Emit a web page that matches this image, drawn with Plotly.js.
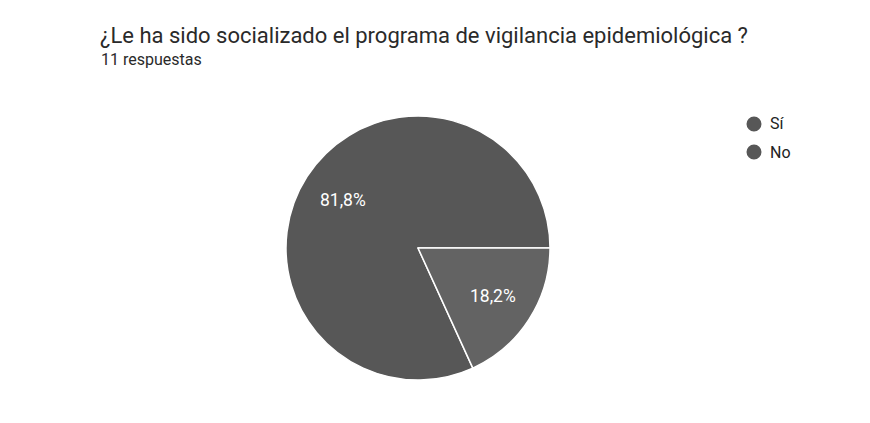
<!DOCTYPE html>
<html>
<head>
<meta charset="utf-8">
<script src="https://cdn.plot.ly/plotly-3.0.1.min.js"></script>
<style>html,body{margin:0;padding:0;background:#fff;}#chart{width:870px;height:423px;}</style>
</head>
<body>
<div id="chart"></div>
<script>
const categories = ["Sí", "No"];
const counts = [9, 2];
const colors = ["#575757", "#636363"];
const legendColors = ["#575757", "#575757"];
const titleText = "¿Le ha sido socializado el programa de vigilancia epidemiológica ?";
const subtitleText = "11 respuestas";

const W = 870, H = 423;
const cx = 418, cy = 248, r = 132;
const total = counts.reduce((a, b) => a + b, 0);
const startAngle = 90 + 360 * counts[1] / total; // compass degrees where first slice begins (clockwise)

const trace = {
  type: "pie",
  labels: categories,
  values: counts,
  sort: false,
  direction: "clockwise",
  rotation: startAngle,
  marker: {colors: colors, line: {color: "#ffffff", width: 1.5}},
  textinfo: "none",
  hoverinfo: "none",
  showlegend: false,
  domain: {x: [(cx - r) / W, (cx + r) / W], y: [1 - (cy + r) / H, 1 - (cy - r) / H]}
};

const shapes = [];
const annotations = [
  {text: titleText, xref: "paper", yref: "paper", x: 98 / W, y: 1 - 35 / H, xanchor: "left", yanchor: "middle", showarrow: false,
   font: {family: "Roboto, Arial, sans-serif", size: 22, color: "#2a2a2a"}},
  {text: subtitleText, xref: "paper", yref: "paper", x: 99 / W, y: 1 - 60 / H, xanchor: "left", yanchor: "middle", showarrow: false,
   font: {family: "Roboto, Arial, sans-serif", size: 16, color: "#2a2a2a"}}
];

// percentage labels placed inside slices along each slice's mid angle
let acc = 0;
counts.forEach((v, i) => {
  const mid = startAngle + 360 * (acc + v / 2) / total;
  acc += v;
  const rad = mid * Math.PI / 180;
  const rr = 0.675 * r;
  const px = cx + rr * Math.sin(rad), py = cy - rr * Math.cos(rad);
  const pct = (100 * v / total).toFixed(1).replace(".", ",") + "%";
  annotations.push({text: pct, xref: "paper", yref: "paper", x: px / W, y: 1 - py / H, xanchor: "center", yanchor: "middle",
    showarrow: false, font: {family: "Roboto, Arial, sans-serif", size: 17.5, color: "#ffffff"}});
});

categories.forEach((c, i) => {
  const y = 124 + i * 28;
  shapes.push({type: "circle", xref: "paper", yref: "paper", fillcolor: legendColors[i], line: {width: 0},
    x0: (754 - 7.5) / W, x1: (754 + 7.5) / W, y0: 1 - (y + 7.5) / H, y1: 1 - (y - 7.5) / H});
  annotations.push({text: c, xref: "paper", yref: "paper", x: 768 / W, y: 1 - y / H, xanchor: "left", yanchor: "middle", showarrow: false,
    font: {family: "Roboto, Arial, sans-serif", size: 16, color: "#222222"}});
});

const layout = {
  width: W, height: H,
  margin: {l: 0, r: 0, t: 0, b: 0},
  paper_bgcolor: "#ffffff",
  showlegend: false,
  shapes: shapes,
  annotations: annotations
};

Plotly.newPlot("chart", [trace], layout, {displayModeBar: false, staticPlot: true});
</script>
</body>
</html>
